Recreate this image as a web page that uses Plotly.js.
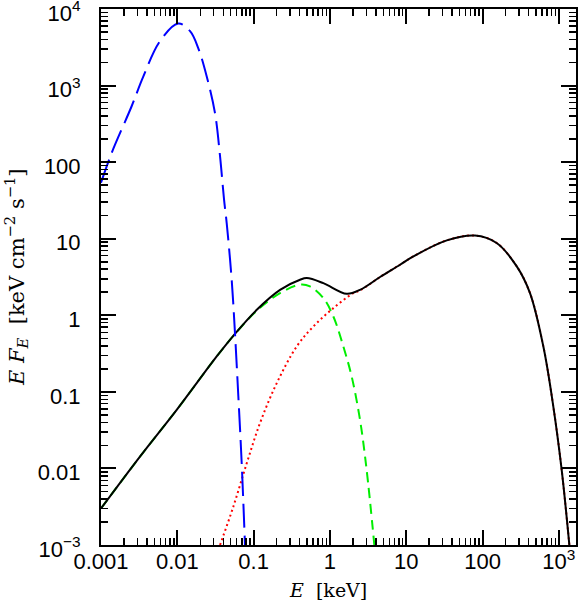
<!DOCTYPE html>
<html>
<head>
<meta charset="utf-8">
<script src="https://cdn.plot.ly/plotly-3.0.1.min.js"></script>
<style>html,body{margin:0;padding:0;background:#fff;}#chart{width:581px;height:613px;}</style>
</head>
<body>
<div id="chart"></div>
<script>
// Blue: soft (disc blackbody) component
const blueE = [0.001, 0.00138, 0.00252, 0.00359, 0.00593, 0.0103, 0.0147, 0.0188, 0.0243, 0.0312, 0.0363, 0.0409, 0.0444, 0.0516, 0.0570, 0.0631, 0.0698, 0.0771];
const blueF = [54, 132, 537, 1318, 3800, 6460, 5130, 3090, 1318, 437, 120, 33.1, 16.0, 2.91, 0.585, 0.0871, 0.0117, 0.001];
// Green: soft Comptonised component
const greenE = [0.001, 0.00324, 0.00982, 0.0328, 0.0542, 0.110, 0.222, 0.406, 0.548, 0.820, 1.11, 1.50, 1.93, 2.48, 3.03, 3.82];
const greenF = [0.0030, 0.01426, 0.0582, 0.290, 0.537, 1.15, 1.95, 2.51, 2.38, 1.68, 0.964, 0.391, 0.158, 0.0431, 0.00955, 0.001];
// Red: hard Comptonised component
const redE = [0.0363, 0.0542, 0.0813, 0.121, 0.201, 0.367, 0.607, 1.11, 2.03, 2.48, 4.54, 8.30, 12.4, 34.0, 79.8, 153, 281, 419, 627, 847, 1090, 1374];
const redF = [0.001, 0.00316, 0.0117, 0.0389, 0.130, 0.391, 0.714, 1.24, 1.95, 2.11, 3.16, 4.57, 5.87, 9.51, 11.0, 8.79, 4.35, 1.95, 0.391, 0.0643, 0.00955, 0.001];
// Black: total
const blackE = [0.001, 0.00324, 0.00982, 0.0328, 0.0542, 0.110, 0.222, 0.406, 0.497, 0.820, 1.66, 2.48, 4.54, 8.30, 12.4, 34.0, 79.8, 153, 281, 419, 627, 847, 1090, 1374];
const blackF = [0.0030, 0.01426, 0.0582, 0.290, 0.540, 1.18, 2.15, 2.91, 3.06, 2.63, 1.91, 2.15, 3.16, 4.57, 5.87, 9.51, 11.0, 8.79, 4.35, 1.95, 0.391, 0.0643, 0.00955, 0.001];

const xTickVals = [0.001, 0.01, 0.1, 1, 10, 100, 1000];
const xTickText = ['0.001', '0.01', '0.1', '1', '10', '100', '10<sup>3</sup>'];
const yTickVals = [0.001, 0.01, 0.1, 1, 10, 100, 1000, 10000];
const yTickText = ['10<sup>\u22123</sup>', '0.01', '0.1', '1', '10', '100', '10<sup>3</sup>', '10<sup>4</sup>'];
const xTitle = '<i>E</i>  [keV]';
const yTitle = '<i>E F<sub>E</sub></i>  [keV cm<sup>\u22122</sup> s<sup>\u22121</sup>]';

function minorVals(lo, hi) {
  const v = [];
  for (let d = lo; d <= hi; d++) for (let m = 2; m <= 9; m++) v.push(m * Math.pow(10, d));
  return v;
}

const traces = [
  {x: greenE, y: greenF, mode: 'lines', line: {color: '#00ee00', width: 2, dash: '10px,6px', shape: 'spline', smoothing: 1}},
  {x: redE, y: redF, mode: 'lines', line: {color: '#ff0000', width: 2, dash: '2px,3px', shape: 'spline', smoothing: 1}},
  {x: blackE, y: blackF, mode: 'lines', line: {color: '#000000', width: 2, shape: 'spline', smoothing: 1}},
  {x: blueE, y: blueF, mode: 'lines', line: {color: '#0000ff', width: 2, dash: '24px,8px', shape: 'spline', smoothing: 1}}
];

const tickFont = {family: 'Liberation Sans, Arial, sans-serif', size: 22, color: '#000'};
const titleFont = {family: 'DejaVu Serif, serif', size: 19, color: '#000'};
const axisCommon = {
  type: 'log', showgrid: false, zeroline: false, showline: true, linecolor: '#000', linewidth: 2,
  mirror: 'allticks', ticks: 'inside', ticklen: 15, tickwidth: 2, tickcolor: '#000',
  tickmode: 'array', tickfont: tickFont, ticklabeloverflow: 'allow'
};

const layout = {
  width: 581, height: 613,
  margin: {l: 101, r: 5, t: 9, b: 68},
  paper_bgcolor: '#fff', plot_bgcolor: '#fff',
  showlegend: false,
  xaxis: Object.assign({}, axisCommon, {
    range: [-3, 3.225], tickvals: xTickVals, ticktext: xTickText, ticklabelstandoff: -4,
    minor: {tickmode: 'array', tickvals: minorVals(-3, 3), ticks: 'inside', ticklen: 7, tickwidth: 1.5, tickcolor: '#000', showgrid: false}
  }),
  yaxis: Object.assign({}, axisCommon, {
    range: [-3, 4], tickvals: yTickVals, ticktext: yTickText, ticklabelstandoff: 14, ticklabelshift: 4,
    minor: {tickmode: 'array', tickvals: minorVals(-3, 3), ticks: 'inside', ticklen: 7, tickwidth: 1.5, tickcolor: '#000', showgrid: false}
  }),
  annotations: [
    {xref: 'paper', yref: 'paper', x: 0.478, y: -0.084, xanchor: 'center', yanchor: 'middle',
     showarrow: false, text: xTitle, font: titleFont},
    {xref: 'paper', yref: 'paper', x: -0.179, y: 0.5, xanchor: 'center', yanchor: 'middle',
     textangle: -90, showarrow: false, text: yTitle, font: Object.assign({}, titleFont, {size: 21})}
  ]
};

Plotly.newPlot('chart', traces, layout, {displayModeBar: false, staticPlot: true});
</script>
</body>
</html>
